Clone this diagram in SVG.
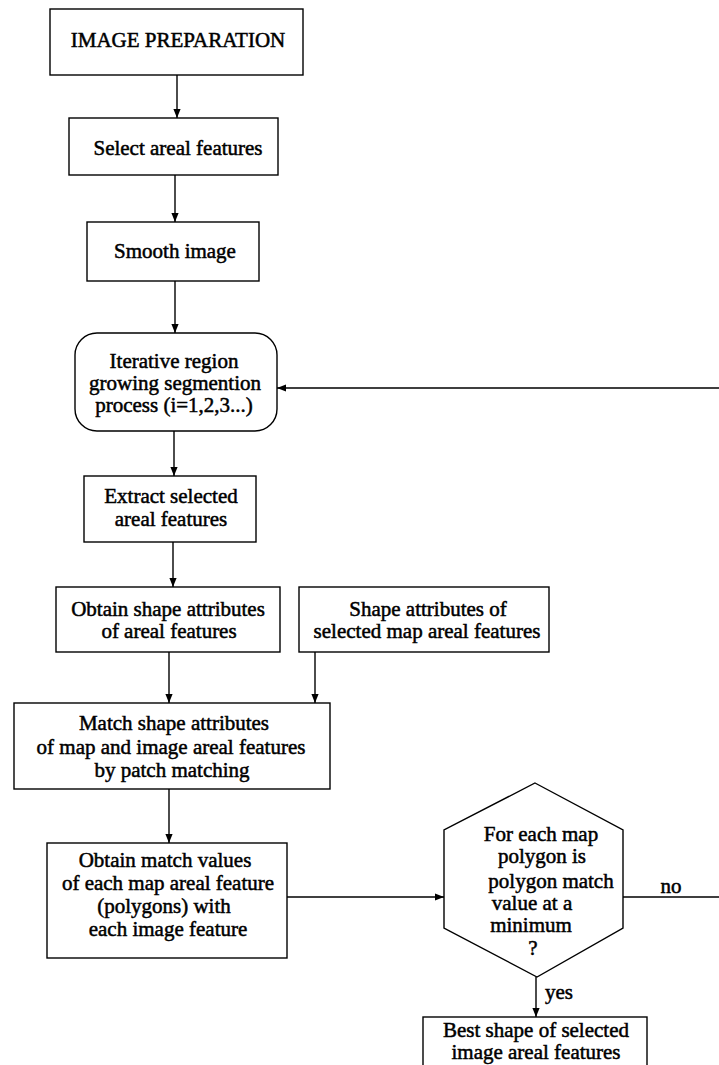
<svg xmlns="http://www.w3.org/2000/svg" width="719" height="1065" viewBox="0 0 719 1065">
<defs>
<style>
.box{fill:#fff;stroke:#000;stroke-width:1.4}
.t{font-family:"Liberation Serif","Times New Roman",serif;font-size:21px;fill:#000;text-anchor:middle;stroke:#000;stroke-width:0.5}
.lbl{font-family:"Liberation Serif","Times New Roman",serif;font-size:21px;fill:#000;stroke:#000;stroke-width:0.5}
.c{fill:none;stroke:#000;stroke-width:1.4}
</style>
<marker id="ah" viewBox="0 0 10 10" refX="10" refY="5" markerWidth="9" markerHeight="9" markerUnits="userSpaceOnUse" orient="auto">
<path d="M0,1 L10,5 L0,9 z" fill="#000"/>
</marker>
</defs>
<rect width="719" height="1065" fill="#fff"/>
<g id="connectors">
<path class="c" d="M177,75 V118" marker-end="url(#ah)"/>
<path class="c" d="M175,175 V222" marker-end="url(#ah)"/>
<path class="c" d="M175,281 V333" marker-end="url(#ah)"/>
<path class="c" d="M174,431 V476" marker-end="url(#ah)"/>
<path class="c" d="M173,542 V587" marker-end="url(#ah)"/>
<path class="c" d="M169,652 V703" marker-end="url(#ah)"/>
<path class="c" d="M315,652 V703" marker-end="url(#ah)"/>
<path class="c" d="M169,789 V843" marker-end="url(#ah)"/>
<path class="c" d="M287,897 H444" marker-end="url(#ah)"/>
<path class="c" d="M623,897 H723 V388 H277" marker-end="url(#ah)"/>
<path class="c" d="M536,977 V1017" marker-end="url(#ah)"/>
<text class="lbl" x="671" y="893" text-anchor="middle">no</text>
<text class="lbl" x="545" y="999">yes</text>
</g>
<g id="n1">
<rect class="box" x="50" y="9" width="253" height="66"/>
<text class="t" x="178" y="47">IMAGE PREPARATION</text>
</g>
<g id="n2">
<rect class="box" x="69" y="118" width="209" height="57"/>
<text class="t" x="178" y="155">Select areal features</text>
</g>
<g id="n3">
<rect class="box" x="87" y="222" width="172" height="59"/>
<text class="t" x="175" y="258">Smooth image</text>
</g>
<g id="n4">
<rect class="box" x="75" y="333" width="202" height="98" rx="22" ry="22"/>
<text class="t" x="174" y="368">Iterative region</text>
<text class="t" x="175" y="390">growing segmention</text>
<text class="t" x="174" y="412">process (i=1,2,3...)</text>
</g>
<g id="n5">
<rect class="box" x="84" y="476" width="172" height="66"/>
<text class="t" x="171" y="503">Extract selected</text>
<text class="t" x="171" y="526">areal features</text>
</g>
<g id="n6">
<rect class="box" x="56" y="587" width="224" height="65"/>
<text class="t" x="168" y="616">Obtain shape attributes</text>
<text class="t" x="169" y="638">of areal features</text>
</g>
<g id="n7">
<rect class="box" x="299" y="587" width="250" height="65"/>
<text class="t" x="428" y="616">Shape attributes of</text>
<text class="t" x="427" y="638">selected map areal features</text>
</g>
<g id="n8">
<rect class="box" x="14" y="703" width="316" height="86"/>
<text class="t" x="174" y="730">Match shape attributes</text>
<text class="t" x="171" y="754">of map and image areal features</text>
<text class="t" x="172" y="777">by patch matching</text>
</g>
<g id="n9">
<rect class="box" x="47" y="843" width="240" height="115"/>
<text class="t" x="165" y="867">Obtain match values</text>
<text class="t" x="168" y="890">of each map areal feature</text>
<text class="t" x="164" y="913">(polygons) with</text>
<text class="t" x="168" y="936">each image feature</text>
</g>
<g id="n10">
<polygon class="box" points="535,783 623,830 623,928 537,977 444,928 444,830"/>
<text class="t" x="541" y="841">For each map</text>
<text class="t" x="542" y="863">polygon is</text>
<text class="t" x="551" y="888">polygon match</text>
<text class="t" x="532" y="910">value at a</text>
<text class="t" x="531" y="932">minimum</text>
<text class="t" x="533" y="955">?</text>
</g>
<g id="n11">
<rect class="box" x="423" y="1017" width="224" height="70"/>
<text class="t" x="536" y="1037">Best shape of selected</text>
<text class="t" x="536" y="1059">image areal features</text>
</g>
</svg>
